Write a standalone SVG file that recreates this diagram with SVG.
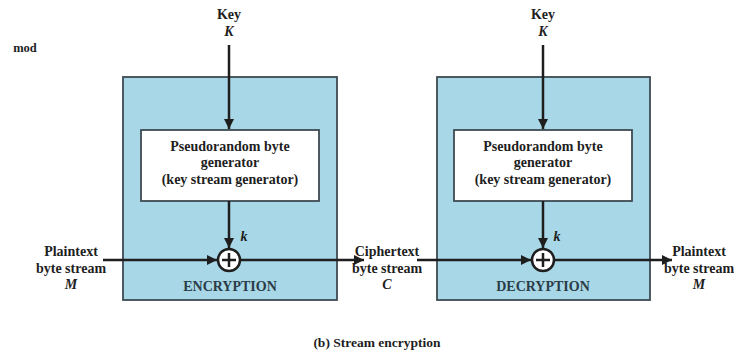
<svg xmlns="http://www.w3.org/2000/svg" width="734" height="358" viewBox="0 0 734 358" font-family="'Liberation Serif', 'Times New Roman', 'DejaVu Serif', serif">
<style>
text{font-family:"Liberation Serif","Times New Roman","DejaVu Serif",serif;font-weight:bold;fill:#1e1e1e;text-anchor:middle}
.t14{font-size:14px}
.it{font-style:italic}
.outer{fill:#a8d8e7;stroke:#3d4b52;stroke-width:1.8}
.inner{fill:#ffffff;stroke:#3d4b52;stroke-width:1.8}
.lbl{fill:#2c3c46}
.ln{stroke:#1e1e1e;stroke-width:2.5;fill:none}
.xor{fill:#ffffff;stroke:#1e1e1e;stroke-width:2.5}
</style>
<defs>
<marker id="ah" viewBox="0 0 10 10" refX="10" refY="5" markerWidth="11" markerHeight="10" markerUnits="userSpaceOnUse" orient="auto">
<path d="M0,0 L10,5 L0,10 Z" fill="#1e1e1e"/>
</marker>
</defs>
<rect width="734" height="358" fill="#ffffff"/>
<text x="25" y="52" style="font-size:12.5px">mod</text>

<g id="encryption">
<rect class="outer" x="123" y="77" width="214" height="223"/>
<text class="t14 lbl" x="230" y="291">ENCRYPTION</text>
</g>
<g id="enc-generator">
<rect class="inner" x="141" y="130" width="178" height="71"/>
<text class="t14" x="230" y="151">Pseudorandom byte</text>
<text class="t14" x="230" y="167">generator</text>
<text class="t14" x="230" y="184">(key stream generator)</text>
</g>
<g id="enc-xor">
<circle class="xor" cx="229" cy="260" r="11"/>
<path class="ln" d="M222,260 H236 M229,253 V267"/>
</g>

<g id="decryption">
<rect class="outer" x="437" y="77" width="213" height="223"/>
<text class="t14 lbl" x="543" y="291">DECRYPTION</text>
</g>
<g id="dec-generator">
<rect class="inner" x="454" y="130" width="178" height="71"/>
<text class="t14" x="543" y="151">Pseudorandom byte</text>
<text class="t14" x="543" y="167">generator</text>
<text class="t14" x="543" y="184">(key stream generator)</text>
</g>
<g id="dec-xor">
<circle class="xor" cx="543" cy="260" r="11"/>
<path class="ln" d="M536,260 H550 M543,253 V267"/>
</g>

<g id="key-enc">
<text class="t14" x="229" y="19">Key</text>
<text class="t14 it" x="229" y="36">K</text>
</g>
<g id="key-dec">
<text class="t14" x="543" y="19">Key</text>
<text class="t14 it" x="543" y="36">K</text>
</g>
<g id="plaintext-in">
<text class="t14" x="71" y="256">Plaintext</text>
<text class="t14" x="71" y="273">byte stream</text>
<text class="t14 it" x="71" y="289">M</text>
</g>
<g id="ciphertext">
<text class="t14" x="387" y="256">Ciphertext</text>
<text class="t14" x="387" y="273">byte stream</text>
<text class="t14 it" x="387" y="289">C</text>
</g>
<g id="plaintext-out">
<text class="t14" x="699" y="256">Plaintext</text>
<text class="t14" x="699" y="273">byte stream</text>
<text class="t14 it" x="699" y="289">M</text>
</g>

<g id="connectors">
<line class="ln" x1="229" y1="45" x2="229" y2="129" marker-end="url(#ah)"/>
<line class="ln" x1="229" y1="201" x2="229" y2="248" marker-end="url(#ah)"/>
<line class="ln" x1="103" y1="260" x2="217" y2="260" marker-end="url(#ah)"/>
<line class="ln" x1="240" y1="260" x2="364" y2="260" marker-end="url(#ah)"/>
<line class="ln" x1="543" y1="45" x2="543" y2="129" marker-end="url(#ah)"/>
<line class="ln" x1="543" y1="201" x2="543" y2="248" marker-end="url(#ah)"/>
<line class="ln" x1="417" y1="260" x2="531" y2="260" marker-end="url(#ah)"/>
<line class="ln" x1="554" y1="260" x2="672" y2="260" marker-end="url(#ah)"/>
<text class="t14 it" x="244" y="241">k</text>
<text class="t14 it" x="557" y="241">k</text>
</g>

<text x="377" y="347" style="font-size:13.5px">(b) Stream encryption</text>
</svg>
